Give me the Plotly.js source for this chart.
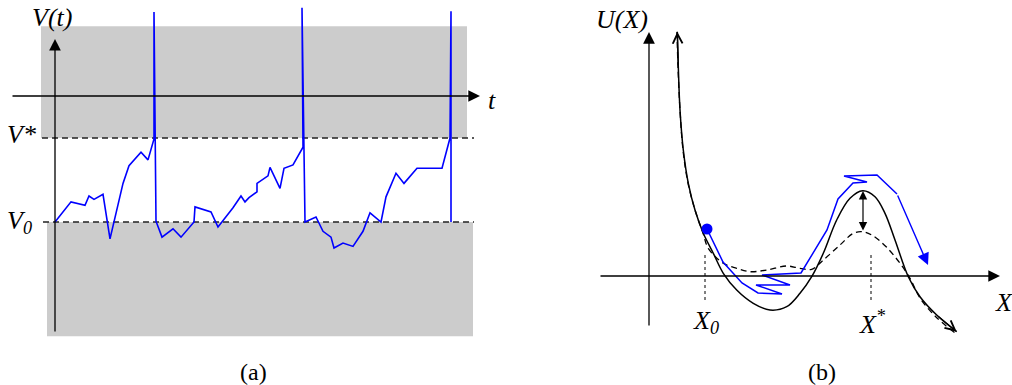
<!DOCTYPE html>
<html>
<head>
<meta charset="utf-8">
<script src="https://cdn.plot.ly/plotly-3.0.1.min.js"></script>
<style>
  html, body { margin: 0; padding: 0; background: #fff; }
  #myDiv { width: 1012px; height: 385px; }
</style>
</head>
<body>
<div id="myDiv"></div>
<script>
// ---- panel (a): V(t), reset at V0, fire at V* ----
var V0 = 0, VSTAR = 1;
var tA = [0, 16, 30, 34, 39, 48, 55, 62, 68, 74, 86, 93, 99, 99, 101, 107, 118, 126, 139, 140,
  156, 163, 178, 186, 190, 194, 202, 202, 213, 215, 225, 229, 238, 248, 247, 250, 261, 268, 276, 279,
  288, 298, 308, 315, 326, 331, 341, 349, 362, 387, 391, 395, 396, 396];
var vA = [0, 0.24, 0.20, 0.31, 0.27, 0.33, -0.20, 0.15, 0.46, 0.67, 0.83, 0.74, 0.99, 2.5, 0.01, -0.18, -0.08, -0.18, 0, 0.18,
  0.12, -0.06, 0.17, 0.31, 0.24, 0.29, 0.36, 0.46, 0.55, 0.65, 0.40, 0.64, 0.68, 0.89, 2.55, 0, 0.06, -0.11, -0.18, -0.31,
  -0.25, -0.29, -0.11, 0.11, 0, 0.30, 0.58, 0.46, 0.64, 0.64, 0.81, 1.0, 2.51, 0];

// ---- panel (b): potential U(X) ----
var xU = [2.83, 2.93, 3.1, 3.43, 3.93, 4.6, 5.43, 6.43, 7.43, 8.77, 10.43, 12.1, 13.77, 15.1, 16.27,
  17.43, 18.77, 20.1, 21.37, 22.6, 23.6, 24.6, 25.93, 27.1, 28.77, 30.77];
var uSolid = [24.43, 20.93, 16.6, 12.6, 9.27, 6.6, 4.27, 2.27, 0.27, -1.4, -2.73, -3.4, -3.07, -1.73, -0.07,
  2.27, 5.6, 7.77, 8.53, 7.93, 6.27, 3.6, -0.07, -2.07, -3.9, -5.57];
var xUd = [2.8, 2.9, 3.1, 3.4, 3.9, 4.6, 5.4, 5.93, 7.43, 8.77, 10.1, 11.77, 13.77, 15.1, 16.27, 17.43,
  19.1, 20.43, 21.37, 22.43, 23.77, 25.1, 26.1, 27.1, 28.7, 30.6];
var uDashed = [24.4, 20.9, 16.6, 12.6, 9.3, 6.6, 4.3, 2.77, 1.27, 0.77, 0.43, 0.6, 1.0, 0.77, 0.67, 1.6,
  3.1, 4.27, 4.43, 4.0, 2.87, 1.27, -0.23, -2.2, -4.1, -5.7];
var xBlue = [5.8, 7.4, 9.3, 10.9, 13.3, 10.7, 14.1, 11.3, 15.2, 17.8, 18.9, 20.4, 21.8, 19.5, 22.8, 24.8, 27.9];
var uBlue = [4.7, 1.4, -0.7, -1.7, -1.8, -0.9, -0.9, 0.1, 0.3, 4.6, 7.7, 9.3, 9.4, 10.0, 10.1, 8.2, 1.1];
var X0 = 5.6, XSTAR = 22.2;
var peakX = 21.4, peakSolid = 8.5, peakDashed = 4.4;

var serif = '"Liberation Serif", "DejaVu Serif", serif';
var blue = 'rgb(0, 0, 255)';
var n = xBlue.length;

var data = [
  // dashed threshold lines
  { x: [-13, 419], y: [VSTAR, VSTAR], mode: 'lines', xaxis: 'x', yaxis: 'y',
    line: { color: '#222', width: 1.5, dash: '6px,4px' } },
  { x: [-12, 419], y: [V0, V0], mode: 'lines', xaxis: 'x', yaxis: 'y',
    line: { color: '#222', width: 1.5, dash: '6px,4px' } },
  // voltage trace
  { x: tA, y: vA, mode: 'lines', xaxis: 'x', yaxis: 'y',
    line: { color: blue, width: 1.6 } },

  // X0 and X* markers
  { x: [X0, X0], y: [2.1, -2.6], mode: 'lines', xaxis: 'x2', yaxis: 'y2',
    line: { color: '#000', width: 1, dash: '3px,3px' } },
  { x: [XSTAR, XSTAR], y: [2.1, -2.6], mode: 'lines', xaxis: 'x2', yaxis: 'y2',
    line: { color: '#000', width: 1, dash: '3px,3px' } },
  // potentials
  { x: xUd, y: uDashed, mode: 'lines', xaxis: 'x2', yaxis: 'y2', line: { shape: 'spline', color: '#000', width: 1.3, dash: '6px,4px' } },
  { x: xU, y: uSolid, mode: 'lines', xaxis: 'x2', yaxis: 'y2', line: { shape: 'spline', color: '#000', width: 1.5 } },
  // particle path
  { x: xBlue.slice(0, n - 1), y: uBlue.slice(0, n - 1), mode: 'lines', xaxis: 'x2', yaxis: 'y2',
    line: { color: blue, width: 1.5 } },
  { x: [xBlue[0]], y: [uBlue[0]], mode: 'markers', xaxis: 'x2', yaxis: 'y2',
    marker: { color: blue, size: 11 } }
];

function arrow(xref, yref, x0, y0, x1, y1, opts) {
  var a = {
    xref: xref, yref: yref, axref: xref, ayref: yref,
    x: x1, y: y1, ax: x0, ay: y0, text: '', showarrow: true,
    arrowhead: 2, arrowsize: 1.8, arrowwidth: 1.3, arrowcolor: '#000', standoff: 0, startstandoff: 0
  };
  for (var k in opts) a[k] = opts[k];
  return a;
}

function label(xref, yref, x, y, text, size) {
  return { xref: xref, yref: yref, x: x, y: y, text: text, showarrow: false,
    font: { family: serif, size: size || 26, color: '#000' }, xanchor: 'center', yanchor: 'middle' };
}

var annotations = [
  // axes panel (a)
  arrow('x', 'y', 0, -1.32, 0, 2.18),
  arrow('x', 'y', -44, 1.5, 425, 1.5),
  // axes panel (b)
  arrow('x2', 'y2', 0, -5.1, 0, 24.4),
  arrow('x2', 'y2', -5, 0, 35.1, 0),
  // open heads on U(X)
  arrow('x2', 'y2', xU[1], uSolid[1], xU[0], uSolid[0], { arrowhead: 5, arrowsize: 1.6, arrowwidth: 1.2 }),
  arrow('x2', 'y2', xU[xU.length - 2], uSolid[uSolid.length - 2], xU[xU.length - 1], uSolid[uSolid.length - 1],
    { arrowhead: 5, arrowsize: 1.6, arrowwidth: 1.2 }),
  // barrier height
  arrow('x2', 'y2', peakX, peakDashed, peakX, peakSolid, { arrowside: 'end+start', arrowsize: 1.4, arrowwidth: 1.2 }),
  // escape arrow
  arrow('x2', 'y2', xBlue[n - 2], uBlue[n - 2], xBlue[n - 1], uBlue[n - 1], { arrowcolor: blue, arrowsize: 1.7, arrowwidth: 1.4 }),

  label('x', 'y', -3, 2.43, '<i>V(t)</i>'),
  label('x', 'y', -34, 1.04, '<i>V*</i>'),
  label('x', 'y', -36, 0.0, '<i>V<sub>0</sub></i>'),
  label('x', 'y', 437, 1.45, '<i>t</i>'),
  label('x', 'y', 198, -1.79, '(a)', 24),
  label('x2', 'y2', -2.7, 25.7, '<i>U(X)</i>'),
  label('x2', 'y2', 5.7, -4.6, '<i>X<sub>0</sub></i>'),
  label('x2', 'y2', 22.3, -4.6, '<i>X<sup>*</sup></i>'),
  label('x2', 'y2', 35.5, -2.6, '<i>X</i>'),
  label('x2', 'y2', 17.3, -9.6, '(b)', 24)
];

var shapes = [
  { type: 'rect', xref: 'x', yref: 'y', x0: -14, x1: 412, y0: VSTAR, y1: 2.33,
    fillcolor: '#cccccc', line: { width: 0 }, layer: 'below' },
  { type: 'rect', xref: 'x', yref: 'y', x0: -8, x1: 418, y0: -1.36, y1: V0,
    fillcolor: '#cccccc', line: { width: 0 }, layer: 'below' }
];

var hidden = { visible: false, fixedrange: true };
var layout = {
  width: 1012, height: 385,
  margin: { l: 0, r: 0, t: 0, b: 0, pad: 0 },
  paper_bgcolor: '#fff', plot_bgcolor: 'rgba(0,0,0,0)',
  font: { family: serif, size: 26, color: '#000' },
  showlegend: false,
  xaxis: Object.assign({ domain: [0, 0.5], range: [-55, 451], anchor: 'y' }, hidden),
  yaxis: Object.assign({ domain: [0, 1], range: [-1.940, 2.643], anchor: 'x' }, hidden),
  xaxis2: Object.assign({ domain: [0.5, 1], range: [-14.3, 36.3], anchor: 'y2' }, hidden),
  yaxis2: Object.assign({ domain: [0, 1], range: [-10.9, 27.6], anchor: 'x2' }, hidden),
  annotations: annotations,
  shapes: shapes
};

Plotly.newPlot('myDiv', data, layout, { displayModeBar: false, staticPlot: true });
</script>
</body>
</html>
